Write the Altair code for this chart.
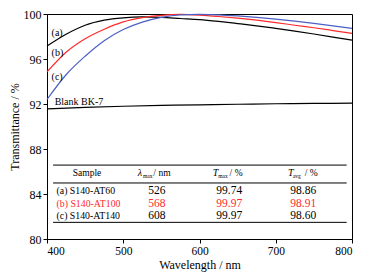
import altair as alt
import pandas as pd

FONT = "Liberation Serif"

# ---- curve data ----
wl = [400, 425, 450, 475, 500, 525, 550, 575, 600, 625, 650, 675, 700, 725, 750, 775, 800]
t_a = [97.15, 98.2, 99.0, 99.45, 99.66, 99.74, 99.7, 99.6, 99.5, 99.34, 99.15, 98.95, 98.72, 98.48, 98.22, 97.95, 97.67]
t_b = [94.85, 96.6, 97.8, 98.65, 99.3, 99.68, 99.88, 99.96, 99.9, 99.78, 99.63, 99.45, 99.24, 99.0, 98.78, 98.53, 98.27]
t_c = [92.4, 94.6, 96.25, 97.63, 98.62, 99.28, 99.7, 99.92, 99.97, 99.93, 99.83, 99.7, 99.55, 99.37, 99.17, 98.95, 98.72]
blank_wl = [400, 450, 500, 550, 600, 650, 700, 750, 800]
t_blank = [91.57, 91.7, 91.8, 91.87, 91.93, 91.98, 92.02, 92.05, 92.07]

series_names = ["a", "b", "c", "blank"]
series_colors = ["#000000", "#ff2a2a", "#4b5fc4", "#000000"]

# ---- curve labels ----
lab_text = ["(a)", "(b)", "(c)", "Blank BK-7"]
lab_x = [406, 406, 406, 410]
lab_y = [98.34, 96.57, 94.38, 92.22]

# ---- inset table ----
rule_y = [86.57, 84.98, 81.48]
rule_x0 = 408
rule_x1 = 793

samples = ["(a) S140-AT60", "(b) S140-AT100", "(c) S140-AT140"]
lam_max = ["526", "568", "608"]
t_max = ["99.74", "99.97", "99.97"]
t_avg = ["98.86", "98.91", "98.60"]
row_colors = ["#000000", "#ff2a2a", "#000000"]
row_y = [84.23, 83.14, 82.08]
sample_x = 412.5
col_x = [544, 639, 736]

header_y = 85.86
sample_header_x = 452.5
sym_text = ["λ", "T", "T"]
sym_x = [519, 617.5, 716]
sub_text = ["max", "max", "avg"]
sub_x = [526, 624.5, 722.5]
unit_text = ["/ nm", "/ %", "/ %"]
unit_x = [539.5, 639.5, 738]

# ---- build tables ----
rows = []
for name, xs, ys in [("a", wl, t_a), ("b", wl, t_b), ("c", wl, t_c), ("blank", blank_wl, t_blank)]:
    for x, y in zip(xs, ys):
        rows.append({"wl": x, "T": y, "s": name})
curves = pd.DataFrame(rows)

xscale = alt.Scale(domain=[400, 800], nice=False, zero=False)
yscale = alt.Scale(domain=[80, 100], nice=False, zero=False)

X = alt.X("wl:Q", scale=xscale,
          axis=alt.Axis(title="Wavelength / nm", values=list(range(400, 801, 25)),
                        labelFontSize=11.5,
                        labelExpr="datum.value % 50 == 0 ? datum.label : ''"))
Y = alt.Y("T:Q", scale=yscale,
          axis=alt.Axis(title="Transmittance / %", values=list(range(80, 101, 2)),
                        labelFontSize=12,
                        labelExpr="datum.value % 4 == 0 ? datum.label : ''"))

lines = alt.Chart(curves).mark_line(strokeWidth=1.2, interpolate="monotone").encode(
    x=X, y=Y,
    color=alt.Color("s:N", scale=alt.Scale(domain=series_names, range=series_colors), legend=None),
    detail="s:N",
)

labels_df = pd.DataFrame({"wl": lab_x, "T": lab_y, "t": lab_text})
labels = alt.Chart(labels_df).mark_text(align="left", baseline="middle", font=FONT, fontSize=10, color="black").encode(
    x=alt.X("wl:Q", scale=xscale), y=alt.Y("T:Q", scale=yscale), text="t:N")

rules_df = pd.DataFrame({"wl": [rule_x0] * 3, "wl2": [rule_x1] * 3, "T": rule_y})
rules = alt.Chart(rules_df).mark_rule(color="black", strokeWidth=1).encode(
    x=alt.X("wl:Q", scale=xscale), x2="wl2:Q", y=alt.Y("T:Q", scale=yscale))

sample_hdr = alt.Chart(pd.DataFrame({"wl": [sample_header_x], "T": [header_y], "t": ["Sample"]})).mark_text(
    align="center", baseline="middle", font=FONT, fontSize=9.5, color="black").encode(
    x=alt.X("wl:Q", scale=xscale), y=alt.Y("T:Q", scale=yscale), text="t:N")

sym = alt.Chart(pd.DataFrame({"wl": sym_x, "T": [header_y] * 3, "t": sym_text})).mark_text(
    align="left", baseline="middle", font=FONT, fontSize=10, fontStyle="italic", color="black").encode(
    x=alt.X("wl:Q", scale=xscale), y=alt.Y("T:Q", scale=yscale), text="t:N")

sub = alt.Chart(pd.DataFrame({"wl": sub_x, "T": [header_y] * 3, "t": sub_text})).mark_text(
    align="left", baseline="middle", font=FONT, fontSize=5.5, dy=3, color="black").encode(
    x=alt.X("wl:Q", scale=xscale), y=alt.Y("T:Q", scale=yscale), text="t:N")

unit = alt.Chart(pd.DataFrame({"wl": unit_x, "T": [header_y] * 3, "t": unit_text})).mark_text(
    align="left", baseline="middle", font=FONT, fontSize=9.5, color="black").encode(
    x=alt.X("wl:Q", scale=xscale), y=alt.Y("T:Q", scale=yscale), text="t:N")

names_df = pd.DataFrame({"wl": [sample_x] * 3, "T": row_y, "t": samples, "c": row_colors})
names = alt.Chart(names_df).mark_text(align="left", baseline="middle", font=FONT, fontSize=9.8).encode(
    x=alt.X("wl:Q", scale=xscale), y=alt.Y("T:Q", scale=yscale), text="t:N",
    color=alt.Color("c:N", scale=None))

vals = []
for i in range(3):
    for cx, arr in zip(col_x, [lam_max, t_max, t_avg]):
        vals.append({"wl": cx, "T": row_y[i], "t": arr[i], "c": row_colors[i]})
vals_df = pd.DataFrame(vals)
values = alt.Chart(vals_df).mark_text(align="center", baseline="middle", font=FONT, fontSize=11.5).encode(
    x=alt.X("wl:Q", scale=xscale), y=alt.Y("T:Q", scale=yscale), text="t:N",
    color=alt.Color("c:N", scale=None))

chart = alt.layer(lines, labels, rules, sample_hdr, sym, sub, unit, names, values).properties(
    width=305, height=225,
    padding={"left": 47, "top": 14, "right": 17, "bottom": 40},
    autosize=alt.AutoSizeParams(type="none"),
    background="white",
).configure_view(
    stroke="black", strokeWidth=1,
).configure_axis(
    grid=False, domainColor="black", domainWidth=1, tickColor="black", tickSize=4, tickWidth=1,
    labelFont=FONT, labelColor="black", labelPadding=2,
    titleFont=FONT, titleFontSize=12, titleFontWeight="normal", titleColor="black",
).configure_axisX(titlePadding=3).configure_axisY(titlePadding=2)

chart.save("out.html", embed_options={"renderer": "svg", "actions": False})
